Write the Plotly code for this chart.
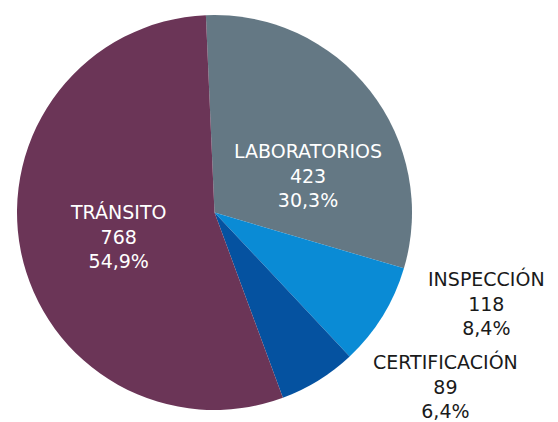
import plotly.graph_objects as go

labels = ["LABORATORIOS", "INSPECCIÓN", "CERTIFICACIÓN", "TRÁNSITO"]
values = [423, 118, 89, 768]
colors = ["#647884", "#0A8BD5", "#0552A0", "#6B3557"]

# page has an 8px body margin: figure sized to fit inside the window
OFF = 8
W, H = 558 - OFF, 422 - OFF

# label block centres (window px from top-left) and text colours
label_pos = [(308, 175), (486, 303), (445, 386), (118, 236)]
label_colors = ["white", "#1a1a1a", "#1a1a1a", "white"]

total = sum(values)

# pie bounding box in window px: x 17..412, y 15..410
x0, x1, y0, y1 = 17 - OFF, 412 - OFF, 15 - OFF, 410 - OFF

fig = go.Figure(go.Pie(
    labels=labels,
    values=values,
    sort=False,
    direction="clockwise",
    rotation=-2.5,
    marker=dict(colors=colors, line=dict(width=0)),
    textinfo="none",
    showlegend=False,
    domain=dict(x=[x0/W, x1/W], y=[1 - y1/H, 1 - y0/H]),
    hoverinfo="label+value+percent",
))

for lab, val, (px, py), col in zip(labels, values, label_pos, label_colors):
    pct = f"{100*val/total:.1f}".replace(".", ",")
    fig.add_annotation(
        x=(px - OFF)/W, y=1 - (py - OFF)/H, xref="paper", yref="paper",
        xanchor="center", yanchor="middle", align="center",
        text=f"{lab}<br>{val}<br>{pct}%",
        showarrow=False,
        font=dict(family="DejaVu Sans", size=19, color=col),
    )

fig.update_layout(
    width=W, height=H,
    margin=dict(l=0, r=0, t=0, b=0),
    paper_bgcolor="white",
    separators=",.",
)

fig.write_html("out.html")
